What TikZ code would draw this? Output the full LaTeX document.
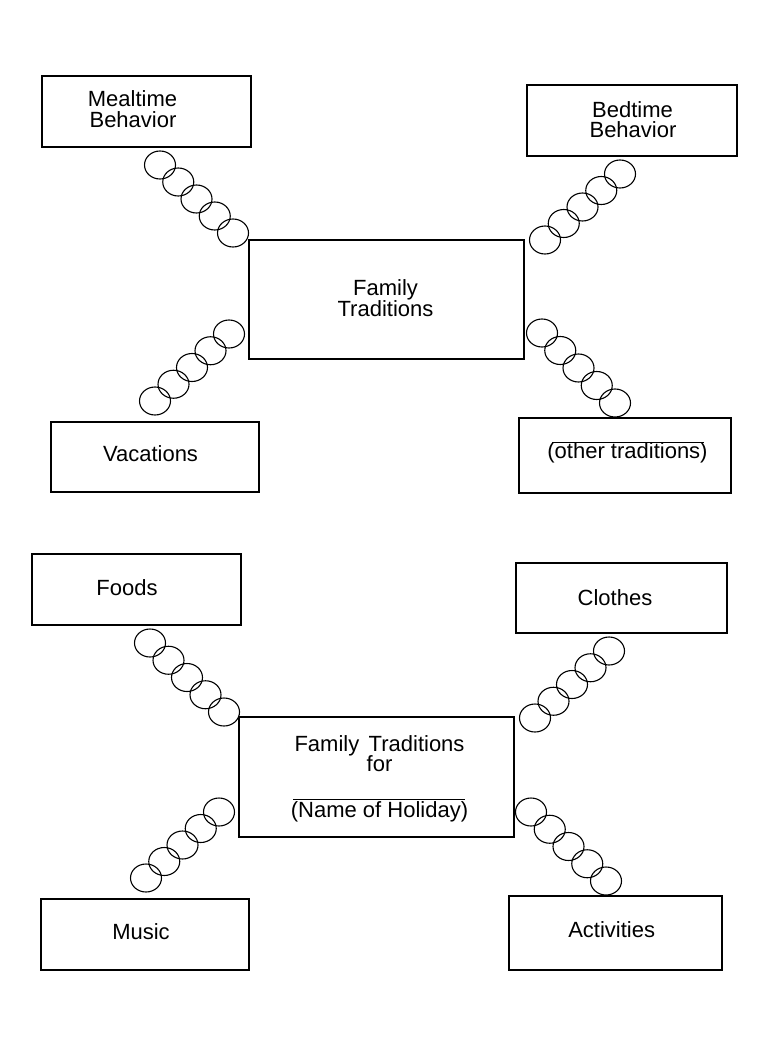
\documentclass[tikz,border=0pt]{standalone}
\usepackage{fontspec}
\setmainfont{Liberation Sans}
\usetikzlibrary{calc}
\tikzset{
  box/.style={draw, line width=1.2pt, rectangle, inner sep=0pt, outer sep=0pt},
  lbl/.style={anchor=base, inner sep=0pt, font=\fontsize{22}{22}\selectfont},
  ring/.style={line width=1.1pt},
  rule/.style={line width=0.8pt}
}
\begin{document}
\begin{tikzpicture}[x=1pt,y=-1pt]
\useasboundingbox (0,0) rectangle (765,1046);
% boxes
\node[box, minimum width=209pt, minimum height=71pt] (meal) at (146.5,111.5) {};
\node[box, minimum width=210pt, minimum height=71pt] (bed) at (632,120.5) {};
\node[box, minimum width=275pt, minimum height=119pt] (ft) at (386.5,299.5) {};
\node[box, minimum width=208pt, minimum height=70pt] (vac) at (155,457) {};
\node[box, minimum width=212pt, minimum height=75pt] (oth) at (625,455.5) {};
\node[box, minimum width=209pt, minimum height=71pt] (foods) at (136.5,589.5) {};
\node[box, minimum width=211pt, minimum height=70pt] (clothes) at (621.5,598) {};
\node[box, minimum width=275pt, minimum height=120pt] (fttwo) at (376.5,777) {};
\node[box, minimum width=208pt, minimum height=71pt] (music) at (145,934.5) {};
\node[box, minimum width=213pt, minimum height=74pt] (act) at (615.5,933) {};
% labels
\node[lbl] (mealA) at (132.5,107) {Mealtime};
\node[lbl] (mealB) at (133,128) {Behavior};
\node[lbl] (bedA) at (632.5,117.7) {Bedtime};
\node[lbl] (bedB) at (633,138) {Behavior};
\node[lbl] (ftA) at (385.5,295) {Family};
\node[lbl] (ftB) at (385.5,316.7) {Traditions};
\node[lbl] (vacA) at (150.5,461.7) {Vacations};
\node[lbl] (othA) at (627.5,458.5) {(other traditions)};
\node[lbl] (foodsA) at (127,595) {Foods};
\node[lbl] (clothesA) at (615,605) {Clothes};
\node[lbl] (fttwoA) at (379.5,751) {Family\hspace{0.15em} Traditions};
\node[lbl] (fttwoB) at (379.5,771.7) {for};
\node[lbl] (fttwoC) at (379.5,817) {(Name of Holiday)};
\node[lbl] (musicA) at (141,939) {Music};
\node[lbl] (actA) at (611.7,937.7) {Activities};
% blank lines
\coordinate (othL) at (552,442);
\coordinate (othR) at (704,442);
\draw[rule] (othL) -- (othR);
\coordinate (holL) at (293,799);
\coordinate (holR) at (465,799);
\draw[rule] (holL) -- (holR);
% chains
\coordinate (c1a) at (160,165); \coordinate (c1b) at (233,233);
\coordinate (c2a) at (620,174); \coordinate (c2b) at (545,240);
\coordinate (c3a) at (229,334); \coordinate (c3b) at (155,401);
\coordinate (c4a) at (542,333); \coordinate (c4b) at (615,403);
\coordinate (c5a) at (150,643); \coordinate (c5b) at (224,712);
\coordinate (c6a) at (609,651); \coordinate (c6b) at (535,718);
\coordinate (c7a) at (219,812); \coordinate (c7b) at (146,878);
\coordinate (c8a) at (531,812); \coordinate (c8b) at (606,881);
\foreach \c in {1,...,8}{
  \foreach \i in {0,...,4}{
    \draw[ring] ($(c\c a)!\i/4!(c\c b)$) ellipse [x radius=15.5pt, y radius=14pt];
  }
}
\end{tikzpicture}
\end{document}
